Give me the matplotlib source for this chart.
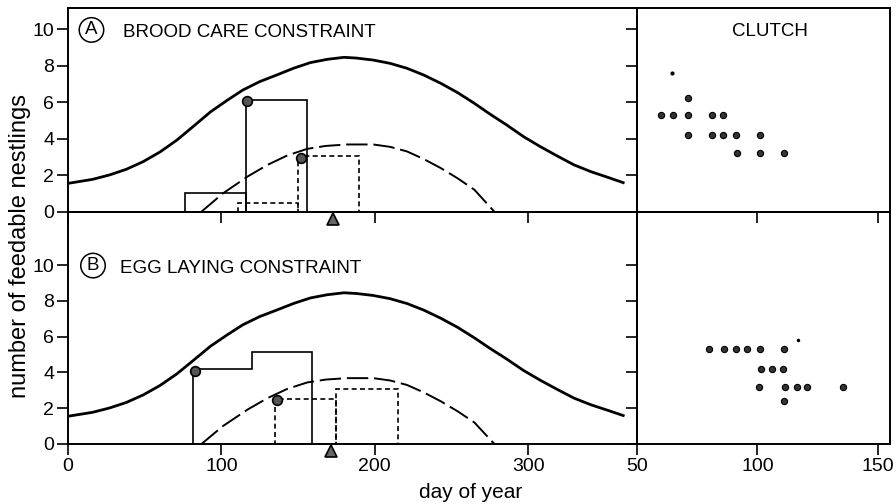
import numpy as np
import matplotlib
matplotlib.use("Agg")
import matplotlib.pyplot as plt

plt.rcParams['font.family'] = ['Liberation Sans', 'DejaVu Sans']

# curve of feedable nestlings (solid)
solid_day = [0, 16, 27, 38, 49, 60, 71, 82, 93, 104, 114, 125, 136, 147, 158, 169, 180,
             188, 199, 210, 221, 232, 243, 254, 265, 275, 286, 297, 308, 319, 330, 341, 352, 362]
solid_val = [1.55, 1.77, 2.01, 2.32, 2.74, 3.27, 3.92, 4.69, 5.47, 6.11, 6.66, 7.12, 7.48, 7.85, 8.16, 8.34, 8.45,
             8.41, 8.30, 8.12, 7.85, 7.48, 7.03, 6.52, 5.93, 5.35, 4.75, 4.11, 3.56, 3.05, 2.56, 2.19, 1.88, 1.59]

# dashed curve
dash_day = [87, 101, 117, 130, 143, 156, 168, 182, 199, 210, 221, 232, 243, 254, 265, 278]
dash_val = [0.0, 1.0, 1.92, 2.56, 3.08, 3.44, 3.6, 3.68, 3.68, 3.55, 3.30, 2.88, 2.39, 1.83, 1.20, 0.0]

# (A) brood care constraint
a_solid_edges = [76, 116, 156]
a_solid_heights = [1.0, 6.1]
a_dash_edges = [111, 150, 190]
a_dash_heights = [0.46, 3.07]
a_dot_day = [117, 152]
a_dot_val = [6.05, 2.92]
a_mean_day = 172.5

# (B) egg laying constraint
b_solid_edges = [81.4, 120, 159]
b_solid_heights = [4.17, 5.16]
b_dash_edges = [135, 175, 215]
b_dash_heights = [2.53, 3.07]
b_dot_day = [82.5, 136.2]
b_dot_val = [4.1, 2.46]
b_mean_day = 171.7

# clutch panels
clutch_a_x = [60, 65, 71, 71, 81, 85.5, 71, 81, 85.5, 91, 101, 91.5, 101, 111]
clutch_a_y = [5.3, 5.3, 5.3, 6.2, 5.3, 5.3, 4.2, 4.2, 4.2, 4.2, 4.2, 3.2, 3.2, 3.2]
clutch_a_tiny = (64.6, 7.6)
clutch_b_x = [80, 86, 91, 95.6, 101, 111, 101.4, 106, 110.6, 100.7, 111.6, 116.2, 120.7, 135.7, 111]
clutch_b_y = [5.3, 5.3, 5.3, 5.3, 5.3, 5.3, 4.2, 4.2, 4.2, 3.2, 3.2, 3.2, 3.2, 3.2, 2.4]
clutch_b_tiny = (116.8, 5.8)

W, H = 896, 504
fig = plt.figure(figsize=(W / 100, H / 100), dpi=100)


def frac(x0, y0, x1, y1):
    return [x0 / W, 1 - y1 / H, (x1 - x0) / W, (y1 - y0) / H]


ax_tl = fig.add_axes(frac(68, 8, 637, 211.7))
ax_bl = fig.add_axes(frac(68, 211.7, 637, 444))
ax_tr = fig.add_axes(frac(637, 8, 890, 211.7))
ax_br = fig.add_axes(frac(637, 211.7, 890, 444))

for ax in (ax_tl, ax_bl, ax_tr, ax_br):
    ax.set_facecolor('none')
    for s in ax.spines.values():
        s.set_linewidth(1.4)
    ax.tick_params(direction='out', length=8, width=1.2, labelsize=14, pad=2)
    ax.set_yticks([0, 2, 4, 6, 8, 10])

ax_tl.set_ylim(0, 11.15)
ax_tr.set_ylim(0, 11.15)
ax_bl.set_ylim(0, 12.98)
ax_br.set_ylim(0, 12.98)
for ax in (ax_tl, ax_bl):
    ax.set_xlim(0, 371)
    ax.set_xticks([0, 100, 200, 300])
for ax in (ax_tr, ax_br):
    ax.set_xlim(50, 155)
    ax.set_xticks([50, 100, 150])
    ax.tick_params(labelleft=False)
ax_tl.tick_params(labelbottom=False)
ax_tr.tick_params(labelbottom=False)


def left_panel(ax, s_edges, s_heights, d_edges, d_heights, dot_d, dot_v, mean_day, stair_solid):
    ax.plot(solid_day, solid_val, color='k', lw=2.0)
    ln, = ax.plot(dash_day, dash_val, color='k', lw=1.4)
    ln.set_dashes((11, 3))
    if stair_solid:
        ax.stairs(s_heights, s_edges, baseline=0, color='k', lw=1.2)
    else:
        ax.bar(s_edges[:-1], s_heights, width=np.diff(s_edges), align='edge',
               fill=False, edgecolor='k', lw=1.2)
    ax.bar(d_edges[:-1], d_heights, width=np.diff(d_edges), align='edge',
           fill=False, edgecolor='k', lw=1.2, linestyle=(0, (3, 2)))
    ax.plot(dot_d, dot_v, 'o', ms=7, mfc='#555555', mec='k', mew=1.2, zorder=5)
    ax.plot([mean_day], [-0.38], '^', ms=9, mfc='#666666', mec='k', mew=1.2,
            clip_on=False, zorder=6)


left_panel(ax_tl, a_solid_edges, a_solid_heights, a_dash_edges, a_dash_heights,
           a_dot_day, a_dot_val, a_mean_day, False)
left_panel(ax_bl, b_solid_edges, b_solid_heights, b_dash_edges, b_dash_heights,
           b_dot_day, b_dot_val, b_mean_day, True)

circ = dict(boxstyle='circle,pad=0.2', fc='none', ec='k', lw=1.1)
ax_tl.text(15.3, 9.95, 'A', ha='center', va='center', fontsize=13.5, bbox=circ)
ax_tl.text(35.9, 9.58, 'BROOD CARE CONSTRAINT', ha='left', va='baseline', fontsize=13.5)
ax_bl.text(16.3, 9.97, 'B', ha='center', va='center', fontsize=13.5, bbox=circ)
ax_bl.text(33.9, 9.54, 'EGG LAYING CONSTRAINT', ha='left', va='baseline', fontsize=13.5)

ax_tr.plot(clutch_a_x, clutch_a_y, 'o', ms=4.5, mfc='#333333', mec='k', mew=0.8)
ax_tr.plot([clutch_a_tiny[0]], [clutch_a_tiny[1]], 'o', ms=2, color='k')
ax_br.plot(clutch_b_x, clutch_b_y, 'o', ms=4.5, mfc='#333333', mec='k', mew=0.8)
ax_br.plot([clutch_b_tiny[0]], [clutch_b_tiny[1]], 'o', ms=1.5, color='k')
ax_tr.text(105.1, 9.63, 'CLUTCH', ha='center', va='baseline', fontsize=13.5)

fig.text(20 / W, 1 - 246 / H, 'number of feedable nestlings', rotation=90,
         ha='center', va='center', fontsize=17)
fig.text(471 / W, 1 - 492 / H, 'day of year', ha='center', va='center', fontsize=15)

fig.savefig('out.png', dpi=100)
